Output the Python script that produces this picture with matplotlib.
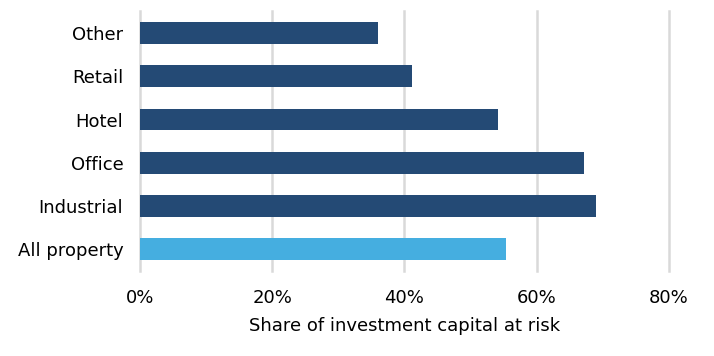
import matplotlib
matplotlib.use("Agg")
import matplotlib.pyplot as plt
from matplotlib.ticker import FuncFormatter

categories = ["All property", "Industrial", "Office", "Hotel", "Retail", "Other"]
values = [55.3, 68.9, 67.1, 54.2, 41.1, 36.0]
bar_colors = ["#45AEE0", "#244A75", "#244A75", "#244A75", "#244A75", "#244A75"]
xticks = [0, 20, 40, 60, 80]
xlabel = "Share of investment capital at risk"

plt.rcParams['font.family'] = ['DejaVu Sans']
fig = plt.figure(figsize=(7.14, 3.56), dpi=100)
ax = fig.add_axes([0.196, 0.239, 0.741, 0.729])

ax.barh(range(len(categories)), values, height=0.5, color=bar_colors, zorder=3)
ax.set_yticks(range(len(categories)))
ax.set_yticklabels(categories, fontsize=13)
ax.set_ylim(-0.5, len(categories) - 0.5)
ax.set_xlim(0, 80)
ax.set_xticks(xticks)
ax.xaxis.set_major_formatter(FuncFormatter(lambda v, p: f"{v:.0f}%"))
ax.tick_params(axis='x', labelsize=13, length=0, pad=13)
ax.tick_params(axis='y', length=0, pad=12)
ax.grid(axis='x', color='#D9D9D9', linewidth=1.8, zorder=0)
for gl in ax.get_xgridlines():
    gl.set_clip_on(False)
for s in ax.spines.values():
    s.set_visible(False)
ax.set_xlabel(xlabel, fontsize=13, labelpad=7)

fig.savefig("out.png", dpi=100)
